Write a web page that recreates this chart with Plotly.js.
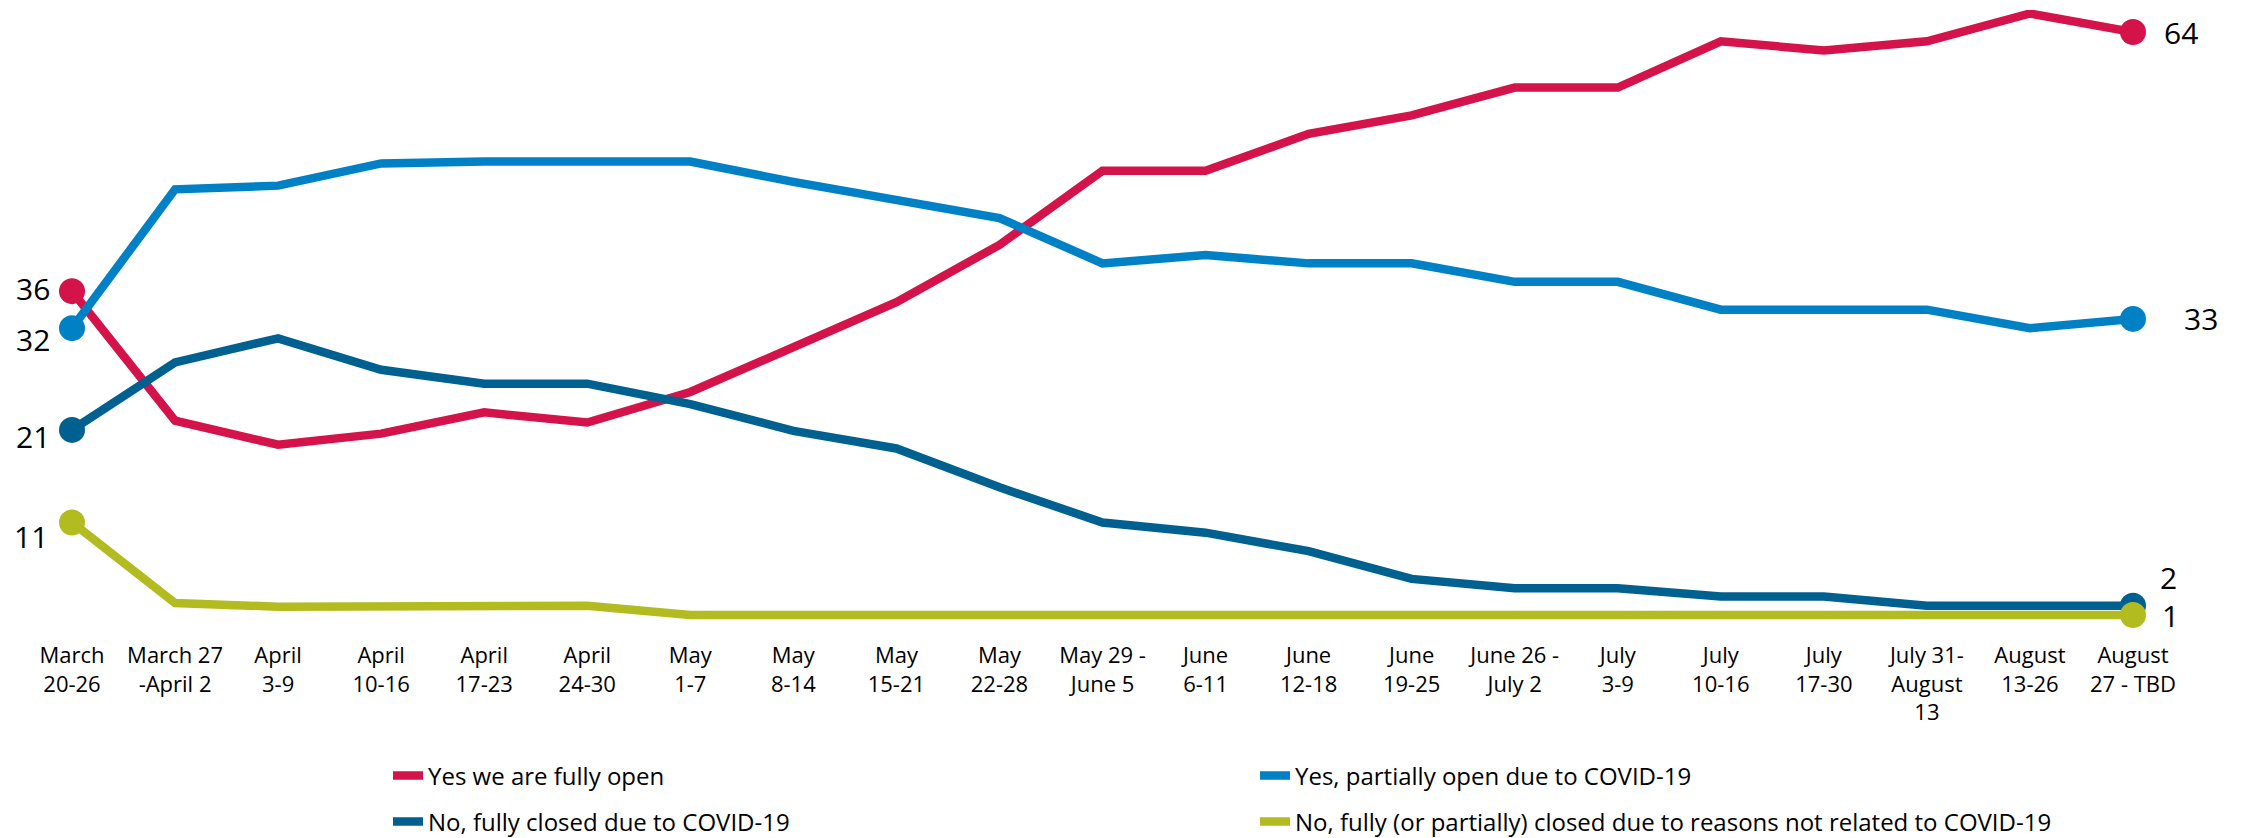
<!DOCTYPE html>
<html>
<head>
<meta charset="utf-8">
<script src="https://cdn.plot.ly/plotly-3.0.1.min.js"></script>
<style>
  html, body { margin: 0; padding: 0; background: #ffffff; }
  #chart { width: 2241px; height: 838px; }
</style>
</head>
<body>
<div id="chart"></div>
<script>
// Survey weeks (x categories)
const weeks = [
  "March<br>20-26", "March 27<br>-April 2", "April<br>3-9", "April<br>10-16",
  "April<br>17-23", "April<br>24-30", "May<br>1-7", "May<br>8-14",
  "May<br>15-21", "May<br>22-28", "May 29 -<br>June 5", "June<br>6-11",
  "June<br>12-18", "June<br>19-25", "June 26 -<br>July 2", "July<br>3-9",
  "July<br>10-16", "July<br>17-30", "July 31-<br>August<br>13", "August<br>13-26",
  "August<br>27 - TBD"
];

// Share of respondents (%) per answer
const fullyOpen     = [36, 22, 19.4, 20.6, 22.9, 21.8, 25.1, 30, 34.8, 41, 49, 49, 53, 55, 58, 58, 63, 62, 63, 66, 64];
const partiallyOpen = [32, 47, 47.4, 49.8, 50, 50, 50, 47.8, 45.8, 43.9, 39, 39.9, 39, 39, 37, 37, 34, 34, 34, 32, 33];
const closedCovid   = [21, 28.3, 30.9, 27.5, 26, 26, 23.8, 20.9, 19, 14.8, 11, 9.9, 7.9, 4.9, 3.9, 3.9, 3, 3, 2, 2, 2];
const closedOther   = [11, 2.3, 1.9, 1.9, 2, 2, 1, 1, 1, 1, 1, 1, 1, 1, 1, 1, 1, 1, 1, 1, 1];

const seriesNames = [
  "Yes we are fully open",
  "Yes, partially open due to COVID-19",
  "No, fully closed due to COVID-19",
  "No, fully (or partially) closed due to reasons not related to COVID-19"
];

// Styling
const colors = ["#D4134A", "#0081C6", "#00608F", "#B2BC21"];
const legendIds = ["legend", "legend", "legend2", "legend2"];
// end-label offsets in px: [xshift, yshift] for first and last point
const startOffsets = [[-20, 3], [-20, -11], [-20, -7], [-22, -14]];
const endOffsets   = [[29, 0], [49, 0], [25, 28], [27, 0]];

const FONT = "Open Sans, Noto Sans, Liberation Sans, sans-serif";
const series = [fullyOpen, partiallyOpen, closedCovid, closedOther];
const last = weeks.length - 1;

const traces = [];
const annotations = [];

series.forEach((vals, i) => {
  traces.push({
    type: "scatter",
    mode: "lines",
    x: weeks,
    y: vals,
    name: seriesNames[i],
    legend: legendIds[i],
    line: { color: colors[i], width: 8.5 },
    cliponaxis: false,
    hoverinfo: "skip"
  });
});

series.forEach((vals, i) => {
  traces.push({
    type: "scatter",
    mode: "markers",
    x: [weeks[0], weeks[last]],
    y: [vals[0], vals[last]],
    marker: { color: colors[i], size: 26 },
    showlegend: false,
    cliponaxis: false,
    hoverinfo: "skip"
  });
  annotations.push({
    x: weeks[0], y: vals[0], xref: "x", yref: "y",
    text: String(vals[0]), showarrow: false,
    xanchor: "right", yanchor: "middle",
    xshift: startOffsets[i][0], yshift: startOffsets[i][1],
    font: { family: FONT, size: 30, color: "#000000" }
  });
  annotations.push({
    x: weeks[last], y: vals[last], xref: "x", yref: "y",
    text: String(vals[last]), showarrow: false,
    xanchor: "left", yanchor: "middle",
    xshift: endOffsets[i][0], yshift: endOffsets[i][1],
    font: { family: FONT, size: 30, color: "#000000" }
  });
});

const legendCommon = {
  orientation: "h",
  xref: "container", yref: "container",
  xanchor: "left", yanchor: "middle",
  x: 388 / 2241,
  entrywidth: 822, entrywidthmode: "pixels",
  bgcolor: "rgba(0,0,0,0)",
  font: { family: FONT, size: 24, color: "#000000" }
};

const layout = {
  width: 2241,
  height: 838,
  margin: { l: 72, r: 108, t: 10, b: 208 },
  paper_bgcolor: "#ffffff",
  plot_bgcolor: "#ffffff",
  font: { family: FONT, color: "#000000" },
  xaxis: {
    type: "category",
    range: [0, last],
    showgrid: false, zeroline: false, showline: false,
    ticks: "",
    ticklabelstandoff: 10,
    tickfont: { family: FONT, size: 22, color: "#000000" },
    fixedrange: true
  },
  yaxis: {
    range: [-0.62, 66.38],
    visible: false,
    fixedrange: true
  },
  legend: Object.assign({}, legendCommon, { y: 1 - 776 / 838 }),
  legend2: Object.assign({}, legendCommon, { y: 1 - 822 / 838 }),
  annotations: annotations,
  showlegend: true
};

Plotly.newPlot("chart", traces, layout, { displayModeBar: false, staticPlot: true });
</script>
</body>
</html>
